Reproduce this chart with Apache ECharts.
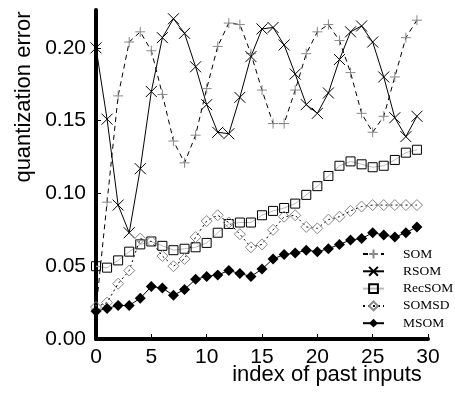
<!DOCTYPE html>
<html>
<head>
<meta charset="utf-8">
<script src="https://cdn.jsdelivr.net/npm/echarts@6/dist/echarts.min.js"></script>
<style>
    html, body { margin: 0; padding: 0; background: #fff; }
    #chart { width: 455px; height: 405px; }
</style>
</head>
<body>
<div id="chart"></div>
<script>
// values, index 0..29
var pastIndex = [];
for (var i = 0; i < 30; i++) pastIndex.push(i);

var seriesNames = ['SOM', 'RSOM', 'RecSOM', 'SOMSD', 'MSOM'];
var somErr = [0.020, 0.094, 0.167, 0.204, 0.211, 0.198, 0.168, 0.136, 0.121, 0.140,
    0.172, 0.201, 0.217, 0.216, 0.196, 0.171, 0.148, 0.148, 0.171, 0.196,
    0.211, 0.216, 0.205, 0.183, 0.155, 0.142, 0.153, 0.180, 0.207, 0.219];
var rsomErr = [0.200, 0.151, 0.092, 0.073, 0.117, 0.170, 0.207, 0.220, 0.210, 0.187,
    0.161, 0.142, 0.141, 0.166, 0.194, 0.213, 0.214, 0.202, 0.182, 0.161,
    0.155, 0.169, 0.192, 0.211, 0.215, 0.204, 0.180, 0.152, 0.139, 0.153];
var recsomErr = [0.050, 0.049, 0.054, 0.060, 0.065, 0.067, 0.064, 0.061, 0.062, 0.063,
    0.066, 0.073, 0.079, 0.080, 0.080, 0.085, 0.088, 0.090, 0.093, 0.099,
    0.105, 0.112, 0.119, 0.122, 0.120, 0.118, 0.119, 0.123, 0.128, 0.130];
var somsdErr = [0.022, 0.025, 0.038, 0.047, 0.069, 0.067, 0.057, 0.050, 0.055, 0.070,
    0.081, 0.085, 0.080, 0.072, 0.063, 0.065, 0.075, 0.084, 0.085, 0.077,
    0.076, 0.082, 0.084, 0.088, 0.091, 0.092, 0.092, 0.092, 0.092, 0.092];
var msomErr = [0.019, 0.021, 0.023, 0.023, 0.028, 0.036, 0.035, 0.030, 0.034, 0.041,
    0.043, 0.044, 0.047, 0.045, 0.043, 0.048, 0.055, 0.058, 0.059, 0.061,
    0.060, 0.062, 0.065, 0.068, 0.069, 0.073, 0.0715, 0.070, 0.073, 0.077];
var xTicks = [0, 5, 10, 15, 20, 25, 30];
var yTicks = [0, 0.05, 0.10, 0.15, 0.20];

function pairs(vals) {
    return vals.map(function (v, k) { return [pastIndex[k], v]; });
}

var plusPath = 'path://M5,0L5,10M0,5L10,5';
var crossPath = 'path://M0,0L10,10M10,0L0,10';

var chart = echarts.init(document.getElementById('chart'));

var option = {
    animation: false,
    backgroundColor: '#fff',
    textStyle: { fontFamily: 'Liberation Sans' },
    grid: { left: 96, right: 27, top: 10, bottom: 66 },
    xAxis: {
        type: 'value',
        min: xTicks[0],
        max: xTicks[xTicks.length - 1],
        interval: 5,
        splitLine: { show: false },
        axisLine: { lineStyle: { color: '#000', width: 4 } },
        axisTick: { inside: true, length: 5, lineStyle: { color: '#000', width: 1 } },
        axisLabel: { color: '#000', fontSize: 21, margin: 8 }
    },
    yAxis: {
        type: 'value',
        min: 0,
        max: 0.226,
        interval: 0.05,
        splitLine: { show: false },
        axisLine: { show: true, lineStyle: { color: '#000', width: 4 } },
        axisTick: { inside: true, length: 5, lineStyle: { color: '#000', width: 1 } },
        axisLabel: {
            color: '#000',
            fontSize: 21,
            margin: 10,
            showMaxLabel: false,
            formatter: function (v) {
                return yTicks.indexOf(Math.round(v * 100) / 100) >= 0 ? v.toFixed(2) : '';
            }
        }
    },
    legend: {
        orient: 'vertical',
        left: 357,
        top: 241,
        itemWidth: 21,
        itemHeight: 11,
        itemGap: 1.3,
        data: seriesNames,
        textStyle: {
            fontFamily: 'Liberation Serif',
            fontSize: 13.5,
            lineHeight: 16,
            color: '#000',
            padding: [0, 0, 0, 14]
        }
    },
    graphic: [{
        type: 'text',
        x: 24,
        y: 97,
        rotation: Math.PI / 2,
        style: {
            text: 'quantization error',
            fontFamily: 'Liberation Sans',
            fontSize: 22,
            fill: '#000',
            align: 'center',
            verticalAlign: 'middle'
        }
    }, {
        type: 'text',
        x: 327,
        y: 375,
        style: {
            text: 'index of past inputs',
            fontFamily: 'Liberation Sans',
            fontSize: 22,
            fill: '#000',
            align: 'center',
            verticalAlign: 'middle'
        }
    }],
    series: [{
        name: seriesNames[0],
        type: 'line',
        data: pairs(somErr),
        symbol: plusPath,
        symbolSize: 10,
        lineStyle: { color: '#000', width: 1, type: [5, 4] },
        itemStyle: { color: 'transparent', borderColor: '#888', borderWidth: 1 }
    }, {
        name: seriesNames[1],
        type: 'line',
        data: pairs(rsomErr),
        symbol: crossPath,
        symbolSize: 11,
        lineStyle: { color: '#000', width: 1 },
        itemStyle: { color: 'transparent', borderColor: '#000', borderWidth: 1 }
    }, {
        name: seriesNames[2],
        type: 'line',
        data: pairs(recsomErr),
        symbol: 'rect',
        symbolSize: 9,
        lineStyle: { color: '#bbb', width: 1 },
        itemStyle: { color: 'transparent', borderColor: '#000', borderWidth: 1 }
    }, {
        name: seriesNames[3],
        type: 'line',
        data: pairs(somsdErr),
        symbol: 'diamond',
        symbolSize: 11,
        lineStyle: { color: '#000', width: 1, type: [2, 3] },
        itemStyle: { color: 'transparent', borderColor: '#888', borderWidth: 1 }
    }, {
        name: seriesNames[4],
        type: 'line',
        data: pairs(msomErr),
        symbol: 'diamond',
        symbolSize: 11,
        lineStyle: { color: '#000', width: 1 },
        itemStyle: { color: '#000' }
    }]
};

chart.setOption(option);
</script>
</body>
</html>
